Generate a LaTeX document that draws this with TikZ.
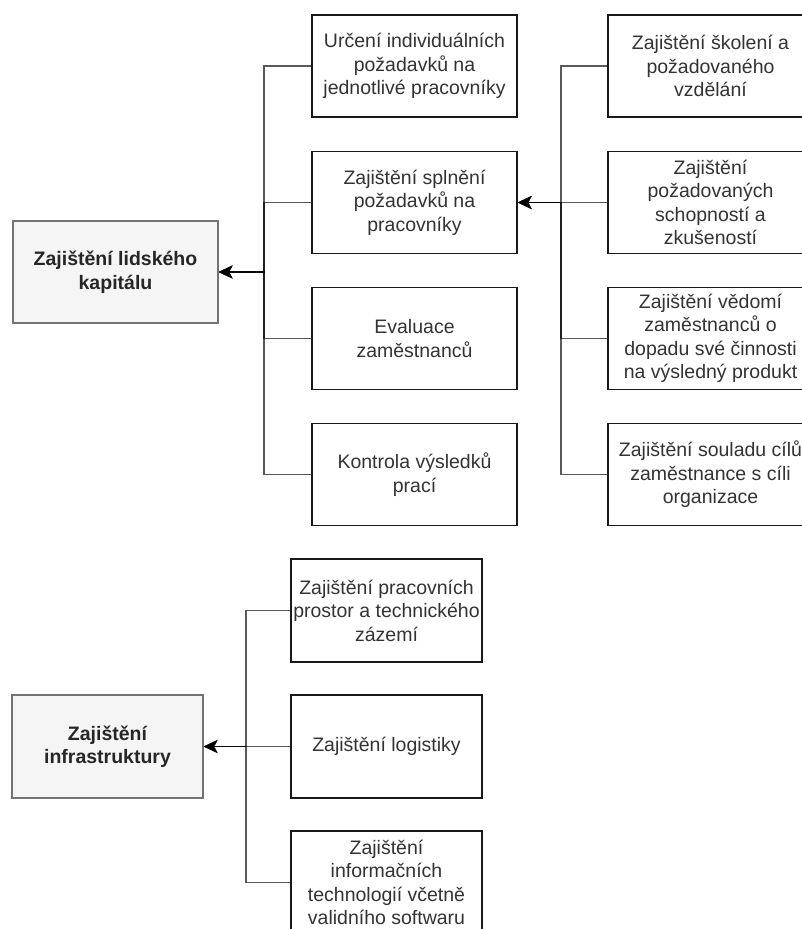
\documentclass[tikz,border=0pt]{standalone}
\usepackage{fontspec}
\setmainfont{Liberation Sans}
\usetikzlibrary{arrows.meta}

\tikzstyle{box}=[draw=black!90,line width=1.3pt,fill=white,text=black!80,align=center,inner sep=0pt,font=\fontsize{19.5}{23.5}\selectfont]
\tikzstyle{root box}=[box,draw=black!55,line width=1.1pt,fill=black!4,text=black!85,font=\fontsize{19.5}{23.5}\selectfont\bfseries]
\tikzstyle{edge}=[draw,line width=1.7pt,black,draw opacity=0.65,-{Stealth[length=14pt,width=13pt,inset=3.5pt]}]

\begin{document}
\begin{tikzpicture}[x=1pt,y=-1pt]
    \useasboundingbox (0,0) rectangle (802,929);
    % Roots
    \node[root box,minimum width=205,minimum height=102] (HC) at (115.5,272) {Zajištění lidského\\kapitálu};
    \node[root box,minimum width=191,minimum height=103] (INF) at (107.5,746.5) {Zajištění\\infrastruktury};
    % Human capital - second level
    \foreach \pos/\name/\txt in {{(414.5,66)/HC1/{Určení individuálních\\požadavků na\\jednotlivé pracovníky}},
        {(414.5,202.5)/HC2/{Zajištění splnění\\požadavků na\\pracovníky}},
        {(414.5,338.5)/HC3/{Evaluace\\zaměstnanců}},
        {(414.5,474.5)/HC4/{Kontrola výsledků\\prací}}}
    \node[box,minimum width=205,minimum height=102] (\name) at \pos {\txt};
    % Human capital - third level
    \foreach \pos/\name/\txt in {{(710.5,66)/REQ1/{Zajištění školení a\\požadovaného\\vzdělání}},
        {(710.5,202.5)/REQ2/{Zajištění\\požadovaných\\schopností a\\zkušeností}},
        {(710.5,338.5)/REQ3/{Zajištění vědomí\\zaměstnanců o\\dopadu své činnosti\\na výsledný produkt}},
        {(710.5,474.5)/REQ4/{Zajištění souladu cílů\\zaměstnance s cíli\\organizace}}}
    \node[box,minimum width=205,minimum height=102] (\name) at \pos {\txt};
    % Infrastructure
    \foreach \pos/\name/\txt in {{(386.5,610.5)/INF1/{Zajištění pracovních\\prostor a technického\\zázemí}},
        {(386.5,746.5)/INF2/{Zajištění logistiky}},
        {(386.5,882.5)/INF3/{Zajištění\\informačních\\technologií včetně\\validního softwaru}}}
    \node[box,minimum width=191,minimum height=103] (\name) at \pos {\txt};
    % Buses
    \coordinate (HCbus) at (264,272);
    \coordinate (REQbus) at (561,202.5);
    \coordinate (INFbus) at (246,746.5);
    % Edges
    \foreach \source in {HC1,HC2,HC3,HC4}
    \path[edge] (\source.west) -| (HCbus) -- (HC.east);
    \foreach \source in {REQ1,REQ2,REQ3,REQ4}
    \path[edge] (\source.west) -| (REQbus) -- (HC2.east);
    \foreach \source in {INF1,INF2,INF3}
    \path[edge] (\source.west) -| (INFbus) -- (INF.east);
\end{tikzpicture}
\end{document}
